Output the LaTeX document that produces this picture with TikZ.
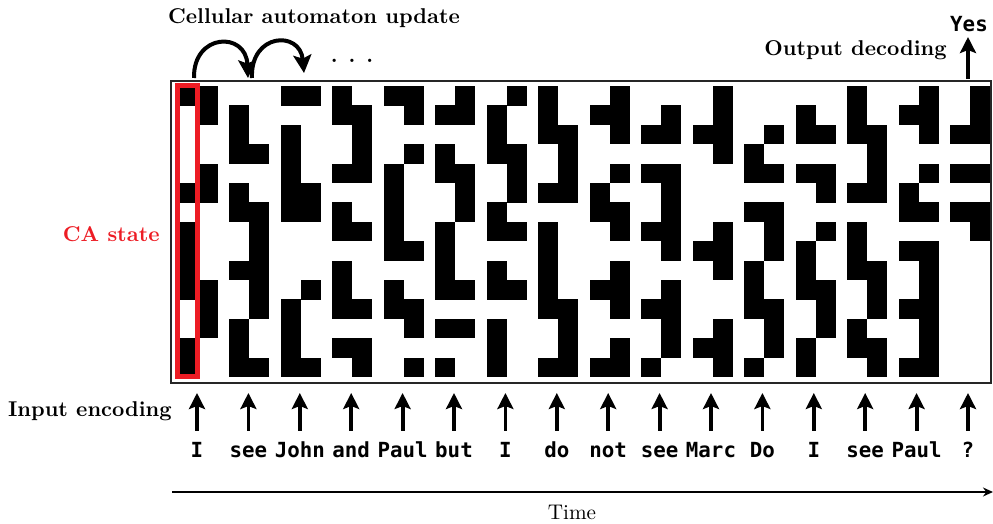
\documentclass[tikz,border=0pt]{standalone}
\usepackage{fontspec}
\newfontfamily\wordfont{DejaVu Sans Mono}
\usetikzlibrary{arrows.meta}
\definecolor{cared}{RGB}{237,28,36}
\begin{document}
\begin{tikzpicture}[x=0.5pt,y=-0.5pt,
  lab/.style={font=\fontsize{10.7}{13}\selectfont\bfseries, inner sep=0pt},
  word/.style={font=\wordfont\fontsize{10.4}{12}\selectfont\bfseries, inner sep=0pt, anchor=base},
  bigarrow/.style={line width=1.9pt, -{Stealth[length=8pt,width=8pt,inset=1.5pt]}},
  curvearrow/.style={line width=2pt, -{Stealth[length=9pt,width=9pt,inset=1.8pt]}},
  timearrow/.style={line width=0.8pt, -{Stealth[length=5pt,width=4.5pt]}},
  frame/.style={line width=1pt, draw=black!85},
  redbox/.style={line width=2.5pt, draw=cared}]
\useasboundingbox (0,0) rectangle (993,524);

% cellular automaton cells
\foreach \k/\c/\rows in {
 0/0/{0,5,7,8,9,10,13,14}, 0/1/{0,1,4,5,10,11,12},
 1/0/{1,2,3,5,6,9,12,13,14}, 1/1/{3,6,7,8,9,10,11,14},
 2/0/{0,2,3,4,5,6,11,12,13,14}, 2/1/{0,5,6,10,14},
 3/0/{0,1,4,6,7,9,10,11,13}, 3/1/{1,2,3,4,7,11,13,14},
 4/0/{0,4,5,6,7,8,10,11}, 4/1/{0,1,3,8,11,12,14},
 5/0/{1,3,4,7,8,9,10,12,14}, 5/1/{0,1,4,5,6,10,12},
 6/0/{1,2,3,6,7,9,10,12,13,14}, 6/1/{0,3,4,5,7,10},
 7/0/{0,1,2,5,7,8,9,10,11,14}, 7/1/{2,3,4,5,11,12,13,14},
 8/0/{1,5,6,10,14}, 8/1/{0,1,2,4,6,7,9,10,11,13,14},
 9/0/{2,4,7,11,14}, 9/1/{1,2,4,5,6,7,8,10,11,12,13},
 10/0/{2,8,13}, 10/1/{0,1,2,3,7,8,9,12,13,14},
 11/0/{3,4,6,9,10,11,14}, 11/1/{2,4,6,7,8,11,12,13},
 12/0/{1,2,4,8,9,10,13,14}, 12/1/{2,4,5,7,10,11,12},
 13/0/{0,1,2,5,7,8,9,12,13}, 13/1/{2,3,4,5,9,10,11,13,14},
 14/0/{1,5,6,8,11,14}, 14/1/{0,1,2,4,6,8,9,10,11,12,13,14},
 15/0/{2,4,6}, 15/1/{0,1,2,4,6,7}}
{
  \foreach \r in \rows
    \fill (177.5+51.5*\k+20*\c, 86+19.4*\r) rectangle ++(20.3,19.7);
}

% frame and CA state box
\coordinate (fa) at (171,81);
\coordinate (fb) at (991,383);
\draw[frame] (fa) rectangle (fb);
\coordinate (ra) at (177.5,86);
\coordinate (rb) at (197.5,377);
\draw[redbox] (ra) rectangle (rb);

% labels
\node[lab, anchor=base] (cau) at (314,24) {Cellular automaton update};
\node[lab, anchor=base] (dots) at (352,63) {. . .};
\node[lab, anchor=base east] (od) at (947,56) {Output decoding};
\node[lab, anchor=base east, text=cared] (cas) at (160,242) {CA state};
\node[lab, anchor=base east] (ie) at (172,417) {Input encoding};
\node[font=\fontsize{10.6}{13}\selectfont, inner sep=0pt, anchor=base] (time) at (572,520) {Time};
\node[word] (yes) at (969,32) {Yes};

% curved update arrows
\coordinate (c1a) at (194,78);
\coordinate (c1b) at (248,78);
\coordinate (c2a) at (252,78);
\coordinate (c2b) at (304,73);
\draw[curvearrow] (c1a) .. controls (193,33) and (246,31) .. (c1b);
\draw[curvearrow] (c2a) .. controls (250,33) and (300,30) .. (c2b);

% output arrow
\coordinate (ys) at (968,79);
\coordinate (yt) at (968,37);
\draw[bigarrow] (ys) -- (yt);

% input words and arrows
\foreach \w [count=\i from 0] in {I,see,John,and,Paul,but,I,do,not,see,Marc,Do,I,see,Paul,?}
{
  \node[word] (w\i) at (197+51.4*\i,458) {\w};
  \coordinate (s\i) at (197+51.4*\i,431);
  \coordinate (t\i) at (197+51.4*\i,393);
  \draw[bigarrow] (s\i) -- (t\i);
}

% time axis
\coordinate (ta) at (172,492);
\coordinate (tb) at (993,492);
\draw[timearrow] (ta) -- (tb);
\end{tikzpicture}
\end{document}
